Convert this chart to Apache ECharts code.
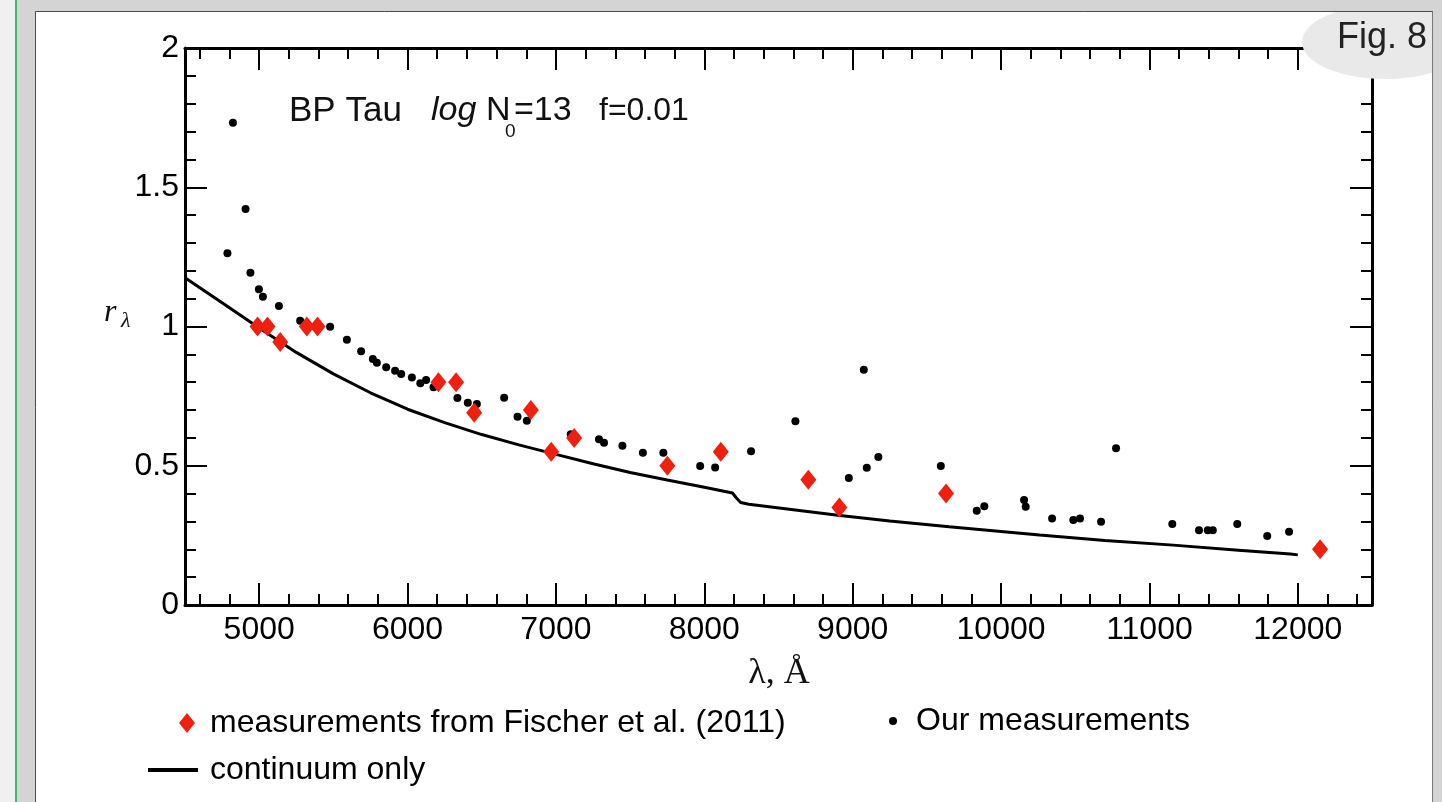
<!DOCTYPE html>
<html>
<head>
<meta charset="utf-8">
<script src="https://cdn.jsdelivr.net/npm/echarts@6/dist/echarts.min.js"></script>
<style>
  html, body { margin: 0; padding: 0; background: #d4d4d4; }
  #chart { width: 1442px; height: 802px; }
</style>
</head>
<body>
<div id="chart"></div>
<script>
// ---------------- data ----------------
const xRange = [4500, 12500];
const yRange = [0, 2];
const xTickLabels = ['5000', '6000', '7000', '8000', '9000', '10000', '11000', '12000'];
const yTickLabels = ['0', '0.5', '1', '1.5', '2'];

// "Our measurements" (black dots)
const ourX = [4786, 4823, 4908, 4941, 4998, 5025, 5133, 5276, 5478, 5591, 5687, 5766, 5793, 5856, 5916, 5957,
  6029, 6086, 6125, 6175, 6336, 6406, 6467, 6651, 6741, 6804, 7100, 7290, 7324, 7448, 7586, 7724,
  7972, 8073, 8315, 8614, 8974, 9075, 9095, 9173, 9594, 9836, 9887, 10155, 10166, 10344, 10487,
  10532, 10674, 10775, 11154, 11334, 11393, 11427, 11592, 11794, 11941];
const ourY = [1.263, 1.732, 1.422, 1.193, 1.134, 1.107, 1.074, 1.021, 0.999, 0.952, 0.911, 0.883, 0.870, 0.854, 0.841, 0.829,
  0.817, 0.796, 0.808, 0.782, 0.743, 0.726, 0.722, 0.744, 0.676, 0.662, 0.613, 0.595, 0.583, 0.572, 0.547, 0.547,
  0.499, 0.494, 0.552, 0.660, 0.456, 0.845, 0.493, 0.531, 0.499, 0.338, 0.355, 0.377, 0.353, 0.311, 0.305,
  0.311, 0.299, 0.563, 0.291, 0.268, 0.268, 0.268, 0.291, 0.248, 0.263];

// "measurements from Fischer et al. (2011)" (red diamonds)
const fischerX = [4989, 5056, 5142, 5321, 5393, 6208, 6327, 6449, 6831, 6968, 7123, 7751, 8111, 8701, 8910, 9629, 12150];
const fischerY = [1.0, 1.0, 0.944, 1.0, 1.0, 0.8, 0.8, 0.69, 0.7, 0.55, 0.6, 0.5, 0.55, 0.45, 0.35, 0.4, 0.2];

// "continuum only" (black line)
const contX = [4500, 4750, 5000, 5250, 5500, 5750, 6000, 6250, 6500, 6750, 7000, 7250, 7500, 7750, 8000, 8190,
  8215, 8245, 8300, 8600, 8900, 9250, 9650, 10000, 10260, 10700, 11160, 11600, 11950, 12000];
const contY = [1.175, 1.085, 0.995, 0.907, 0.830, 0.762, 0.703, 0.655, 0.612, 0.575, 0.541, 0.507, 0.476, 0.449, 0.423, 0.402,
  0.385, 0.368, 0.362, 0.342, 0.322, 0.302, 0.281, 0.264, 0.251, 0.232, 0.215, 0.197, 0.183, 0.180];

const nameFischer = 'measurements from Fischer et al. (2011)';
const nameOur = 'Our measurements';
const nameCont = 'continuum only';
// ------------------------------------------------------------

const zip = (a, b) => a.map((v, i) => [v, b[i]]);
const SANS = '"Liberation Sans", Arial, sans-serif';
const SERIF = '"Liberation Serif", "Times New Roman", serif';

function frameAxis(extra) {
  return Object.assign({
    type: 'value',
    axisLine: { show: true, onZero: false, lineStyle: { color: '#000', width: 3 } },
    axisTick: { show: true, inside: true, length: 22, lineStyle: { color: '#000', width: 2 } },
    minorTick: { show: true, splitNumber: 5, length: 11, lineStyle: { color: '#000', width: 2 } },
    splitLine: { show: false },
    minorSplitLine: { show: false }
  }, extra);
}

const labelStyle = { color: '#000', fontSize: 32, fontFamily: SANS };

const chart = echarts.init(document.getElementById('chart'), null, { renderer: 'canvas' });

const option = {
  backgroundColor: 'transparent',
  animation: false,
  grid: { left: 185, top: 48, width: 1187, height: 557, containLabel: false },
  xAxis: [
    frameAxis({
      position: 'bottom', min: xRange[0], max: xRange[1], splitNumber: 8,
      axisLabel: Object.assign({ margin: 9, showMinLabel: false, showMaxLabel: false,
        formatter: v => (xTickLabels.indexOf(String(v)) >= 0 ? String(v) : '') }, labelStyle)
    }),
    frameAxis({
      position: 'top', min: xRange[0], max: xRange[1], splitNumber: 8,
      axisLabel: { show: false }
    })
  ],
  yAxis: [
    frameAxis({
      position: 'left', min: yRange[0], max: yRange[1], interval: 0.5,
      axisLabel: Object.assign({ margin: 6, showMinLabel: true, showMaxLabel: true,
        formatter: v => { const s = String(v); return yTickLabels.indexOf(s) >= 0 ? s : ''; } }, labelStyle)
    }),
    frameAxis({
      position: 'right', min: yRange[0], max: yRange[1], interval: 0.5,
      axisLabel: { show: false }
    })
  ],
  legend: [
    {
      data: [{ name: nameFischer, icon: 'path://M8,0L16,10L8,20L0,10Z' }],
      left: 179, top: 707, padding: 0, itemWidth: 36, itemHeight: 20,
      selectedMode: false, textStyle: labelStyle
    },
    {
      data: [{ name: nameOur, icon: 'circle' }],
      left: 889, top: 705, padding: 0, itemWidth: 36, itemHeight: 8,
      selectedMode: false, textStyle: labelStyle
    },
    {
      data: [{ name: nameCont, icon: 'rect' }],
      left: 148, top: 754, padding: 0, itemWidth: 50, itemHeight: 4,
      selectedMode: false,
      textStyle: Object.assign({ padding: [0, 0, 0, 7] }, labelStyle)
    }
  ],
  series: [
    {
      name: nameCont, type: 'line', data: zip(contX, contY),
      showSymbol: false, symbol: 'none', smooth: false,
      lineStyle: { color: '#000', width: 3 }, itemStyle: { color: '#000' }, z: 1
    },
    {
      name: nameOur, type: 'scatter', data: zip(ourX, ourY),
      symbol: 'circle', symbolSize: 8, itemStyle: { color: '#000', opacity: 1 }, z: 2
    },
    {
      name: nameFischer, type: 'scatter', data: zip(fischerX, fischerY),
      symbol: 'diamond', symbolSize: [16, 20], itemStyle: { color: '#f02010', opacity: 1 }, z: 3
    }
  ],
  graphic: [
    // page frame
    { type: 'rect', z: -100, silent: true, shape: { x: 0, y: 0, width: 1442, height: 802 }, style: { fill: '#d4d4d4' } },
    { type: 'rect', z: -99, silent: true, shape: { x: 0, y: 0, width: 15, height: 802 }, style: { fill: '#f0f0f0' } },
    { type: 'rect', z: -99, silent: true, shape: { x: 15, y: 0, width: 2, height: 802 }, style: { fill: '#3dba6c' } },
    { type: 'rect', z: -98, silent: true, shape: { x: 35.5, y: 11.5, width: 1397, height: 800 }, style: { fill: '#fff', stroke: '#4a4a4a', lineWidth: 1 } },
    // "Fig. 8" badge
    { type: 'ellipse', z: 100, silent: true, shape: { cx: 1385, cy: 42, rx: 83, ry: 37 }, style: { fill: '#e9e9e9' } },
    { type: 'rect', z: 101, silent: true, shape: { x: 1433, y: 0, width: 9, height: 802 }, style: { fill: '#d4d4d4' } },
    { type: 'rect', z: 101, silent: true, shape: { x: 1200, y: 0, width: 242, height: 11 }, style: { fill: '#d4d4d4' } },
    { type: 'line', z: 102, silent: true, shape: { x1: 1200, y1: 11.5, x2: 1433, y2: 11.5 }, style: { stroke: '#4a4a4a', lineWidth: 1 } },
    { type: 'line', z: 102, silent: true, shape: { x1: 1432.5, y1: 11.5, x2: 1432.5, y2: 802 }, style: { stroke: '#777', lineWidth: 1 } },
    { type: 'text', z: 103, silent: true, x: 1337, y: 38,
      style: { text: 'Fig. 8', font: '36px ' + SANS, fill: '#222', align: 'left', verticalAlign: 'middle' } },
    // annotation
    { type: 'text', z: 50, silent: true, x: 289, y: 111,
      style: { text: 'BP Tau', font: '35px ' + SANS, fill: '#111', align: 'left', verticalAlign: 'middle' } },
    { type: 'text', z: 50, silent: true, x: 431, y: 111,
      style: { text: 'log', font: 'italic 34px ' + SANS, fill: '#111', align: 'left', verticalAlign: 'middle' } },
    { type: 'text', z: 50, silent: true, x: 486, y: 111,
      style: { text: 'N', font: '34px ' + SANS, fill: '#111', align: 'left', verticalAlign: 'middle' } },
    { type: 'text', z: 50, silent: true, x: 505, y: 132,
      style: { text: '0', font: '19px ' + SANS, fill: '#111', align: 'left', verticalAlign: 'middle' } },
    { type: 'text', z: 50, silent: true, x: 514, y: 111,
      style: { text: '=13', font: '34px ' + SANS, fill: '#111', align: 'left', verticalAlign: 'middle' } },
    { type: 'text', z: 50, silent: true, x: 599, y: 111,
      style: { text: 'f=0.01', font: '32px ' + SANS, fill: '#111', align: 'left', verticalAlign: 'middle' } },
    // axis names
    { type: 'text', z: 50, silent: true, x: 104, y: 313,
      style: { text: 'r', font: 'italic 32px ' + SERIF, fill: '#111', align: 'left', verticalAlign: 'middle' } },
    { type: 'text', z: 50, silent: true, x: 121, y: 321,
      style: { text: 'λ', font: 'italic 22px ' + SERIF, fill: '#111', align: 'left', verticalAlign: 'middle' } },
    { type: 'text', z: 50, silent: true, x: 779, y: 674,
      style: { text: 'λ, Å', font: '36px ' + SERIF, fill: '#111', align: 'center', verticalAlign: 'middle' } }
  ]
};

chart.setOption(option);
</script>
</body>
</html>
